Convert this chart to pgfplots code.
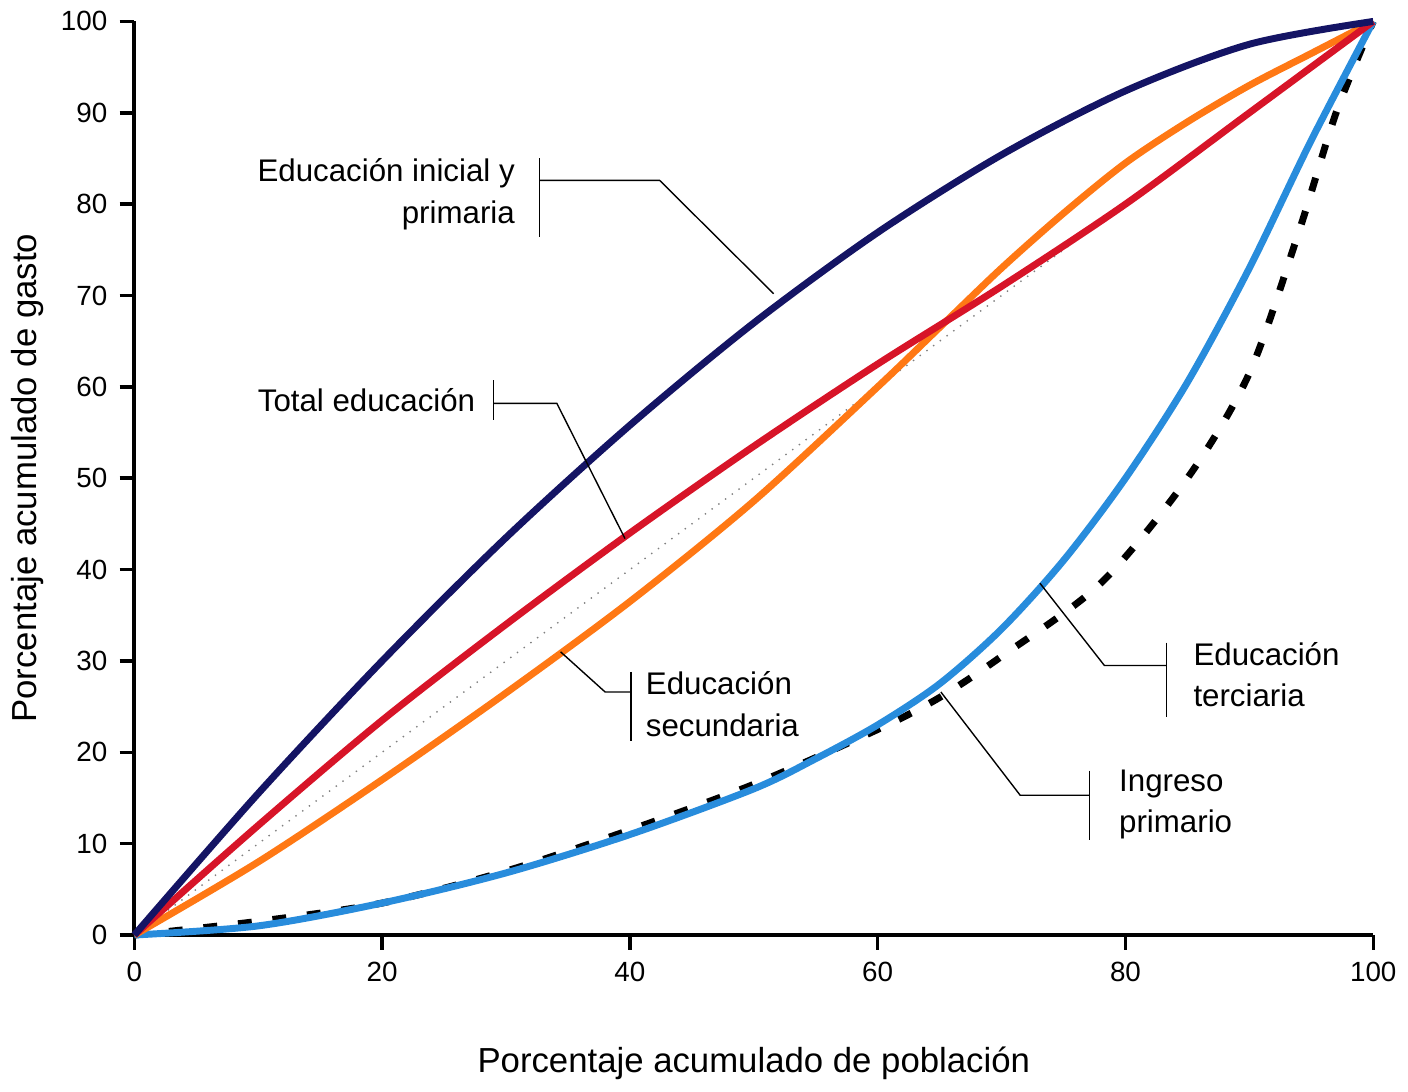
\documentclass[border=0pt]{standalone}
\usepackage{fontspec}
\setmainfont{Liberation Sans}
\usepackage{pgfplots}
\pgfplotsset{compat=1.18}
\begin{document}
\begin{tikzpicture}
\begin{axis}[width=12.53cm,height=9.24cm,scale only axis,
xmin=0,xmax=100,ymin=0,ymax=100,
xtick={0,20,40,60,80,100},ytick={0,10,...,100},
axis x line*=bottom, axis y line*=left, axis line style={line width=1.2pt},
tick style={line width=1pt,black}, tick align=outside,
font=\fontsize{8}{10}\selectfont,
/pgf/number format/assume math mode=true,
xlabel={Porcentaje acumulado de población}, ylabel={Porcentaje acumulado de gasto},
xlabel style={font=\fontsize{10}{12}\selectfont, yshift=-12pt},
ylabel style={font=\fontsize{10}{12}\selectfont, yshift=-2pt},
clip=false]
\addplot[gray,dotted,thin] coordinates {(0,0)(100,100)};
\addplot[black,line width=2pt,dash pattern=on 4pt off 6pt,smooth] coordinates {(0,0)(10,1.5)(20,3.5)(30,7)(40,11.5)(50,16.5)(60,22.5)(65,26)(70,30.5)(78,38.5)(85,50)(90,61.5)(94,77)(97,90)(100,100)};
\addplot[color={rgb,255:red,40;green,140;blue,220},line width=2pt,smooth] coordinates {(0,0)(10,1)(20,3.5)(30,6.8)(40,11)(50,16)(55,19.3)(60,23)(65,27.5)(70,33.5)(75,41)(80,50)(85,60.5)(90,73)(95,87)(100,100)};
\addplot[color={rgb,255:red,255;green,120;blue,20},line width=2pt,smooth] coordinates {(0,0)(10,8)(20,17)(30,26.5)(40,36.5)(50,47.5)(60,60)(65,66.5)(70,73)(75,79)(80,84.5)(85,89)(90,93)(95,96.5)(100,100)};
\addplot[color={rgb,255:red,215;green,20;blue,40},line width=2pt,smooth] coordinates {(0,0)(10,12)(20,23.5)(30,34)(40,44)(50,53.5)(60,62.5)(70,71)(80,80)(90,90)(100,100)};
\addplot[color={rgb,255:red,20;green,20;blue,100},line width=2pt,smooth] coordinates {(0,0)(10,15.5)(20,30)(30,43.5)(40,55.8)(50,67)(60,76.9)(70,85.4)(80,92.4)(90,97.5)(100,100)};
% annotations
\draw (axis cs:32.7,85) -- (axis cs:32.7,76.4);
\draw (axis cs:32.7,82.6) -- (axis cs:42.4,82.6) -- (axis cs:51.6,70.2);
\node[anchor=east,align=right,font=\fontsize{9}{12}\selectfont] at (axis cs:31.7,81.1) {Educación inicial y\\primaria};
\draw (axis cs:29,60.7) -- (axis cs:29,56.4);
\draw (axis cs:29,58.2) -- (axis cs:34.1,58.2) -- (axis cs:39.6,43.4);
\node[anchor=east,font=\fontsize{9}{12}\selectfont] at (axis cs:28.5,58.5) {Total educación};
\draw (axis cs:40.1,28.8) -- (axis cs:40.1,21.2);
\draw (axis cs:34.4,31) -- (axis cs:38,26.6) -- (axis cs:40.1,26.6);
\node[anchor=west,align=left,font=\fontsize{9}{12}\selectfont] at (axis cs:40.3,25.3) {Educación\\secundaria};
\draw (axis cs:83.3,32) -- (axis cs:83.3,23.9);
\draw (axis cs:73.1,38.5) -- (axis cs:78.3,29.5) -- (axis cs:83.3,29.5);
\node[anchor=west,align=left,font=\fontsize{9}{12}\selectfont] at (axis cs:84.5,28.5) {Educación\\terciaria};
\draw (axis cs:77.1,18) -- (axis cs:77.1,10.4);
\draw (axis cs:65.1,26.6) -- (axis cs:71.5,15.3) -- (axis cs:77.1,15.3);
\node[anchor=west,align=left,font=\fontsize{9}{12}\selectfont] at (axis cs:78.5,14.3) {Ingreso\\primario};
\end{axis}
\end{tikzpicture}
\end{document}
